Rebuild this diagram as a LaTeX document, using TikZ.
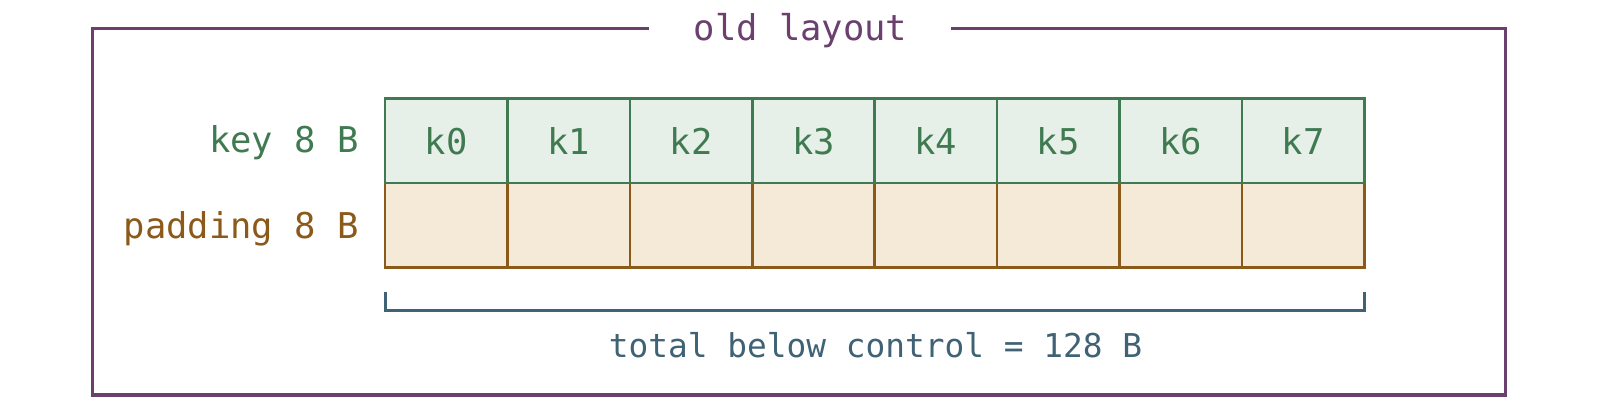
\documentclass[tikz,border=0pt]{standalone}
\usepackage{fontspec}
\setmonofont{DejaVu Sans Mono}
\definecolor{framec}{HTML}{6B3F6E}
\definecolor{keyc}{HTML}{3F7A50}
\definecolor{keyf}{HTML}{E6F0E8}
\definecolor{padc}{HTML}{8B5A1A}
\definecolor{padf}{HTML}{F5E9D8}
\definecolor{totc}{HTML}{3F6275}
\begin{document}
\begin{tikzpicture}[x=1pt,y=-1pt,
  every node/.style={font=\ttfamily\fontsize{35.5}{42}\selectfont, inner sep=0pt},
  keycell/.style={draw=keyc, fill=keyf, line width=2.6pt, minimum width=122.4pt, minimum height=84.6pt, text=keyc},
  padcell/.style={draw=padc, fill=padf, line width=2.6pt, minimum width=122.4pt, minimum height=84.6pt},
  lbl/.style={anchor=base east}]
\useasboundingbox (0,0) rectangle (1600,414);
% frame
\coordinate (f1) at (649.3,28.3);
\coordinate (f2) at (92.7,28.3);
\coordinate (f3) at (92.7,395);
\coordinate (f4) at (1505.7,395);
\coordinate (f5) at (1505.7,28.3);
\coordinate (f6) at (950.7,28.3);
\draw[framec, line width=3.2pt] (f1) -- (f2) -- (f3) -- (f4) -- (f5) -- (f6);
\node[text=framec, anchor=base] (title) at (800.5,40.7) {old layout};
% cells
\foreach \i in {0,...,7} {
  \node[padcell] (p\i) at ({385+122.41*\i+61.2},225.4) {};
}
\foreach \i in {0,...,7} {
  \node[keycell] (k\i) at ({385+122.41*\i+61.2},140.8) {k\i};
}
\node[lbl, text=keyc] (keylbl) at (359,152.3) {key 8 B};
\node[lbl, text=padc] (padlbl) at (359,238.3) {padding 8 B};
% bracket
\coordinate (b1) at (385.3,291.7);
\coordinate (b2) at (385.3,310.3);
\coordinate (b3) at (1364.3,310.3);
\coordinate (b4) at (1364.3,291.7);
\draw[totc, line width=3pt] (b1) -- (b2) -- (b3) -- (b4);
\node[text=totc, anchor=base, font=\ttfamily\fontsize{32.8}{40}\selectfont] (total) at (875.5,357.7) {total below control = 128 B};
\end{tikzpicture}
\end{document}
